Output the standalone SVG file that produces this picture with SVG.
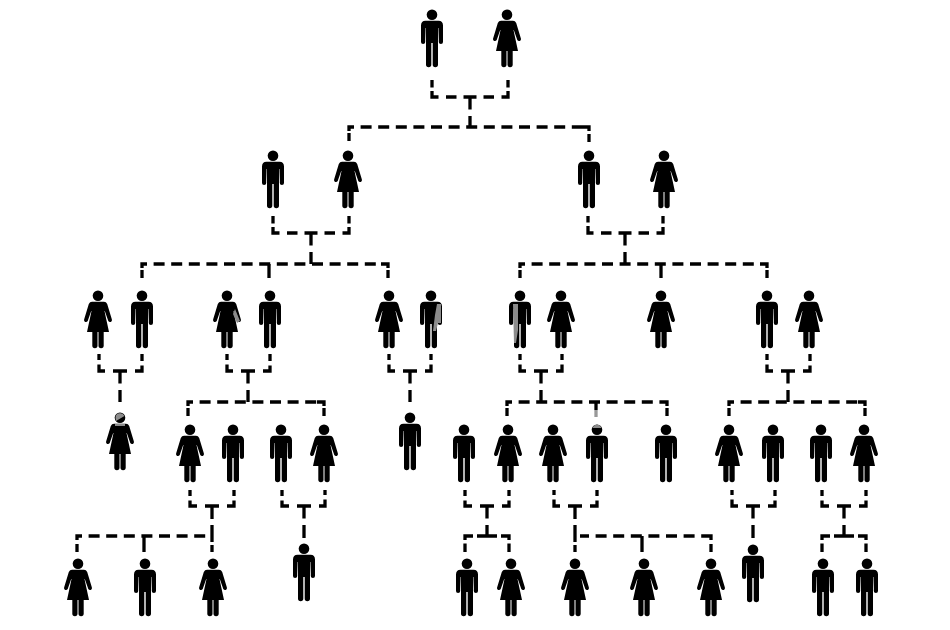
<svg xmlns="http://www.w3.org/2000/svg" xmlns:xlink="http://www.w3.org/1999/xlink" width="950" height="630" viewBox="0 0 950 630">
<style>
#connectors path{fill:none;stroke:#000;stroke-width:3.3}
#connectors .b76{stroke-dasharray:6.500 7 10.500 7.500 12.500 3.500 9 99}
#connectors .b43{stroke-dasharray:7 8 12.500 4.500 9 99}
#connectors .sh{stroke-dasharray:10 4 12 3.500 10 99}
#connectors .st{stroke-dasharray:12.500 6.500 99 1}
#connectors .h{stroke-dasharray:11 6.600;stroke-dashoffset:2}
.w{fill:#8c8c8c}
</style>
<defs>
<g id="m">
<circle cx="0" cy="4.7" r="5.300"/>
<path d="M-6.500 10.700H6.500Q11 10.700 11 15.500V32A2.100 2.100 0 0 1 6.800 32V18H6.400L6 30V54.500A2.650 2.650 0 0 1 .7 54.500V33H-.7V54.500A2.650 2.650 0 0 1 -6 54.500V30L-6.400 18H-6.800V32A2.100 2.100 0 0 1 -11 32V15.500Q-11 10.700-6.500 10.700Z"/>
</g>
<g id="f">
<circle cx="0" cy="4.700" r="5.300"/>
<path d="M-6 10.700H6Q8.200 10.700 9.200 13L13.900 28.500Q14.300 30.300 12.800 30.900 11.100 31.400 10.300 29.900L6.800 20H6.500L11 41H-11L-6.500 20H-6.800L-10.300 29.900Q-11.100 31.400-12.800 30.900-14.300 30.300-13.900 28.500L-9.200 13Q-8.200 10.700-6 10.700Z"/>
<path d="M-5.700 40H-.5V54.600A2.600 2.600 0 0 1 -5.700 54.600Z"/>
<path d="M.5 40H5.700V54.600A2.600 2.600 0 0 1 .5 54.600Z"/>
</g>
</defs>
<rect width="950" height="630" fill="#fff"/>
<g id="connectors">
<path class="b76" d="M470 97H432V80M470 97H508V80"/>
<path class="b76" d="M311 233H273V216M311 233H349V216"/>
<path class="b76" d="M625 233H588V216M625 233H663V216"/>
<path class="b43" d="M120 371H99V354M120 371H142V354"/>
<path class="b43" d="M248 371H227V354M248 371H270V354"/>
<path class="b43" d="M410 371H389V354M410 371H431V354"/>
<path class="b43" d="M541 371H520V354M541 371H562V354"/>
<path class="b43" d="M788 371H767V354M788 371H810V354"/>
<path class="b43" d="M212 506H190V490M212 506H234V490"/>
<path class="b43" d="M304 506H282V490M304 506H325V490"/>
<path class="b43" d="M487 506H465V490M487 506H509V490"/>
<path class="b43" d="M575 506H554V490M575 506H597V490"/>
<path class="b43" d="M753 506H732V490M753 506H775V490"/>
<path class="b43" d="M844 506H822V490M844 506H866V490"/>
<path class="st" d="M470 97V127"/>
<path class="st" d="M311 233V264"/>
<path class="st" d="M625 233V264"/>
<path class="st" d="M120 371V402"/>
<path class="st" d="M248 371V402"/>
<path class="st" d="M410 371V402"/>
<path class="st" d="M541 371V402"/>
<path class="st" d="M788 371V402"/>
<path class="st" d="M304 506V538"/>
<path class="st" d="M487 506V536"/>
<path class="st" d="M753 506V538"/>
<path class="st" d="M844 506V536"/>
<path d="M212 506V519M212 525V542M212 545V552"/>
<path d="M575 506V519M575 525V542M575 545V552"/>
<path class="h" d="M349 131V127H582"/>
<path d="M582 127H589V131M589 134V142M349 133V141"/>
<path class="h" d="M142 268V264H381"/>
<path d="M381 264H388V268M388 270V278M142 270V278M269 264V278"/>
<path class="h" d="M520 268V264H760"/>
<path d="M760 264H767V268M767 270V278M520 270V278M661 264V278"/>
<path class="h" d="M188 406V402H317"/>
<path d="M317 402H324V406M324 408V416M188 408V416"/>
<path class="h" d="M507 406V402H660"/>
<path d="M660 402H667V406M667 408V416M507 408V416"/>
<path class="h" d="M729 406V402H858"/>
<path d="M858 402H865V406M865 408V416M729 408V416"/>
<path class="h" d="M77 540V536H212"/>
<path d="M77 544V552M144 536V552"/>
<path class="h" d="M580 536H704"/>
<path d="M704 536H711V540M711 544V552M642 536V552"/>
<path class="sh" d="M487 536H465V552M487 536H509V552"/>
<path class="sh" d="M844 536H822V552M844 536H866V552"/>
<path d="M596 402V410"/>
<path style="stroke:#999" d="M596 410V417"/>
</g>
<g id="p1"><use xlink:href="#m" x="432" y="10"/></g>
<g id="p2"><use xlink:href="#f" x="507" y="10"/></g>
<g id="p3"><use xlink:href="#m" x="273" y="151"/></g>
<g id="p4"><use xlink:href="#f" x="348" y="151"/></g>
<g id="p5"><use xlink:href="#m" x="589" y="151"/></g>
<g id="p6"><use xlink:href="#f" x="664" y="151"/></g>
<g id="p7"><use xlink:href="#f" x="98" y="291"/></g>
<g id="p8"><use xlink:href="#m" x="142" y="291"/></g>
<g id="p9"><use xlink:href="#f" x="227" y="291"/><path class="w" d="M235 309L240 321 237 323 233 314Z"/></g>
<g id="p10"><use xlink:href="#m" x="270" y="291"/></g>
<g id="p11"><use xlink:href="#f" x="389" y="291"/></g>
<g id="p12"><use xlink:href="#m" x="431" y="291"/><path class="w" d="M437 304H441V323H438L436 331H433L435 315Z"/></g>
<g id="p13"><use xlink:href="#m" x="520" y="291"/><path class="w" d="M513 304H518V330L516 343H514Z"/></g>
<g id="p14"><use xlink:href="#f" x="561" y="291"/></g>
<g id="p15"><use xlink:href="#f" x="661" y="291"/></g>
<g id="p16"><use xlink:href="#m" x="767" y="291"/></g>
<g id="p17"><use xlink:href="#f" x="809" y="291"/></g>
<g id="p18"><use xlink:href="#f" x="120" y="413"/><path class="w" d="M115.500 418A4.700 4.700 0 0 1 124.500 416L116 421Z"/><rect class="w" x="115" y="424" width="10" height="2"/></g>
<g id="p19"><use xlink:href="#f" x="190" y="425"/></g>
<g id="p20"><use xlink:href="#m" x="233" y="425"/></g>
<g id="p21"><use xlink:href="#m" x="281" y="425"/></g>
<g id="p22"><use xlink:href="#f" x="324" y="425"/></g>
<g id="p23"><use xlink:href="#m" x="410" y="413"/></g>
<g id="p24"><use xlink:href="#m" x="464" y="425"/></g>
<g id="p25"><use xlink:href="#f" x="508" y="425"/></g>
<g id="p26"><use xlink:href="#f" x="553" y="425"/></g>
<g id="p27"><use xlink:href="#m" x="597" y="425"/><path class="w" d="M592.500 428A4.700 4.700 0 0 1 601.500 428Z"/></g>
<g id="p28"><use xlink:href="#m" x="666" y="425"/></g>
<g id="p29"><use xlink:href="#f" x="729" y="425"/></g>
<g id="p30"><use xlink:href="#m" x="773" y="425"/></g>
<g id="p31"><use xlink:href="#m" x="821" y="425"/></g>
<g id="p32"><use xlink:href="#f" x="864" y="425"/></g>
<g id="p33"><use xlink:href="#f" x="78" y="559"/></g>
<g id="p34"><use xlink:href="#m" x="145" y="559"/></g>
<g id="p35"><use xlink:href="#f" x="213" y="559"/></g>
<g id="p36"><use xlink:href="#m" x="304" y="544"/></g>
<g id="p37"><use xlink:href="#m" x="467" y="559"/></g>
<g id="p38"><use xlink:href="#f" x="511" y="559"/></g>
<g id="p39"><use xlink:href="#f" x="575" y="559"/></g>
<g id="p40"><use xlink:href="#f" x="644" y="559"/></g>
<g id="p41"><use xlink:href="#f" x="711" y="559"/></g>
<g id="p42"><use xlink:href="#m" x="753" y="545"/></g>
<g id="p43"><use xlink:href="#m" x="823" y="559"/></g>
<g id="p44"><use xlink:href="#m" x="867" y="559"/></g>
</svg>
